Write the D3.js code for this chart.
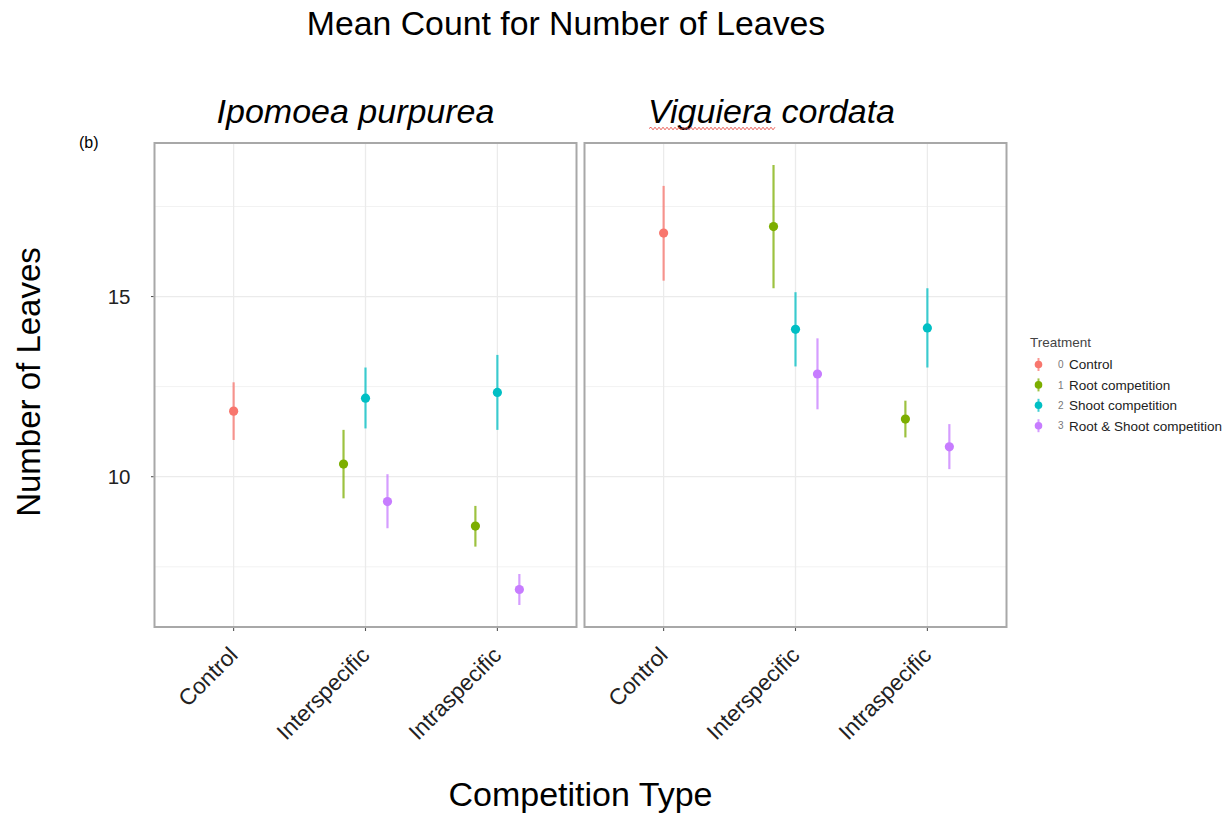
<!DOCTYPE html>
<html>
<head>
<meta charset="utf-8">
<script src="https://cdn.jsdelivr.net/npm/d3@7"></script>
<style>
  html, body { margin: 0; padding: 0; background: #fff; }
  svg { display: block; font-family: "Liberation Sans", Arial, Helvetica, sans-serif; }
</style>
</head>
<body>
<svg id="chart" width="1230" height="814"></svg>
<script>
// ---- data ----
const speciesNames = ["Ipomoea purpurea", "Viguiera cordata"];
const competitionTypes = ["Control", "Interspecific", "Intraspecific"];
const treatmentNames = ["Control", "Root competition", "Shoot competition", "Root & Shoot competition"];
const treatmentCodes = ["0", "1", "2", "3"];
const treatmentColors = ["#F8766D", "#7CAE00", "#00BFC4", "#C77CFF"];
const yTickValues = [10, 15];

const rowSpecies     = [0, 0, 0, 0, 0, 0, 0, 1, 1, 1, 1, 1, 1, 1];
const rowCompetition = ["Control", "Interspecific", "Interspecific", "Interspecific", "Intraspecific", "Intraspecific", "Intraspecific",
                        "Control", "Interspecific", "Interspecific", "Interspecific", "Intraspecific", "Intraspecific", "Intraspecific"];
const rowTreatment   = [0, 1, 2, 3, 1, 2, 3, 0, 1, 2, 3, 1, 2, 3];
const meanLeaves     = [11.82, 10.35, 12.18, 9.31, 8.63, 12.34, 6.87, 16.76, 16.94, 14.09, 12.85, 11.60, 14.13, 10.83];
const lowerLeaves    = [11.02, 9.40, 11.34, 8.57, 8.06, 11.30, 6.44, 15.44, 15.23, 13.06, 11.87, 11.09, 13.03, 10.21];
const upperLeaves    = [12.62, 11.30, 13.03, 10.07, 9.19, 13.38, 7.30, 18.07, 18.65, 15.12, 13.84, 12.11, 15.23, 11.46];

const rows = rowSpecies.map((s, i) => ({
  species: s, comp: rowCompetition[i], trt: rowTreatment[i],
  mean: meanLeaves[i], lo: lowerLeaves[i], hi: upperLeaves[i]
}));

// ---- layout ----
const svg = d3.select("#chart");
const panelTop = 143, panelBottom = 627;
const panelLefts = [154.5, 584.5];
const panelW = 422;

const ext = [d3.min(lowerLeaves), d3.max(upperLeaves)];
const pad = (ext[1] - ext[0]) * 0.05;
const y = d3.scaleLinear().domain([ext[0] - pad, ext[1] + pad]).range([panelBottom, panelTop]);
const minorTicks = [7.5, 12.5, 17.5];

const x = d3.scalePoint().domain(competitionTypes).range([0, panelW]).padding(0.6);
const step = x.step();
const dodgeWidth = 0.5;

// dodge offsets
const groups = d3.group(rows, d => d.species + "|" + d.comp);
groups.forEach(g => {
  const n = g.length;
  g.sort((a, b) => a.trt - b.trt);
  g.forEach((d, k) => {
    d.offset = (-dodgeWidth / 2 + (k + 0.5) * dodgeWidth / n) * step;
  });
});

const facetShift = [-10, -24];

speciesNames.forEach((name, si) => {
  const g = svg.append("g").attr("transform", `translate(${panelLefts[si]},0)`);
  // minor gridlines
  g.selectAll("line.minor").data(minorTicks).join("line")
    .attr("x1", 0).attr("x2", panelW)
    .attr("y1", d => y(d)).attr("y2", d => y(d))
    .attr("stroke", "#f2f2f2").attr("stroke-width", 1);
  // major gridlines
  g.selectAll("line.majorY").data(yTickValues).join("line")
    .attr("x1", 0).attr("x2", panelW)
    .attr("y1", d => y(d)).attr("y2", d => y(d))
    .attr("stroke", "#ebebeb").attr("stroke-width", 1.3);
  g.selectAll("line.majorX").data(competitionTypes).join("line")
    .attr("x1", d => x(d)).attr("x2", d => x(d))
    .attr("y1", panelTop).attr("y2", panelBottom)
    .attr("stroke", "#ebebeb").attr("stroke-width", 1.3);

  const pr = rows.filter(d => d.species === si);
  g.selectAll("line.err").data(pr).join("line")
    .attr("x1", d => x(d.comp) + d.offset).attr("x2", d => x(d.comp) + d.offset)
    .attr("y1", d => y(d.lo)).attr("y2", d => y(d.hi))
    .attr("stroke", d => treatmentColors[d.trt]).attr("stroke-opacity", 0.75)
    .attr("stroke-width", 2.2);
  g.selectAll("circle").data(pr).join("circle")
    .attr("cx", d => x(d.comp) + d.offset).attr("cy", d => y(d.mean))
    .attr("r", 4.6).attr("fill", d => treatmentColors[d.trt]);

  // panel border
  g.append("rect").attr("x", 0).attr("y", panelTop).attr("width", panelW).attr("height", panelBottom - panelTop)
    .attr("fill", "none").attr("stroke", "#a8a8a8").attr("stroke-width", 2);

  // x ticks
  g.selectAll("line.xt").data(competitionTypes).join("line")
    .attr("x1", d => x(d)).attr("x2", d => x(d))
    .attr("y1", panelBottom + 1).attr("y2", panelBottom + 4)
    .attr("stroke", "#555").attr("stroke-width", 1.1);
  g.selectAll("text.xl").data(competitionTypes).join("text")
    .attr("transform", d => `translate(${x(d) - 6},${panelBottom + 18}) rotate(-45)`)
    .attr("text-anchor", "end").attr("dy", "0.72em")
    .attr("font-size", 22.5).attr("fill", "#222")
    .text(d => d);

  // facet label
  g.append("text").attr("x", panelW / 2 + facetShift[si]).attr("y", 123)
    .attr("text-anchor", "middle").attr("font-size", 34).attr("font-style", "italic")
    .attr("fill", "#000").text(name);
});

// y axis ticks & labels (left panel only)
const ya = svg.append("g");
ya.selectAll("line").data(yTickValues).join("line")
  .attr("x1", panelLefts[0] - 3.5).attr("x2", panelLefts[0] - 1)
  .attr("y1", d => y(d)).attr("y2", d => y(d))
  .attr("stroke", "#555").attr("stroke-width", 1.1);
ya.selectAll("text").data(yTickValues).join("text")
  .attr("x", 130.5).attr("y", d => y(d)).attr("dy", "0.36em")
  .attr("text-anchor", "end").attr("font-size", 20.5).attr("fill", "#222")
  .text(d => d);

// squiggle under "Viguiera" (spell-check mark in reference)
(function () {
  const x0 = 649, x1 = 776, yy = 128.5;
  let p = `M${x0},${yy}`;
  let up = true;
  for (let xx = x0 + 2; xx <= x1; xx += 2) { p += `L${xx},${yy + (up ? -1.3 : 1.3)}`; up = !up; }
  svg.append("path").attr("d", p).attr("fill", "none").attr("stroke", "#e8504a").attr("stroke-width", 0.9);
})();

// titles
svg.append("text").attr("x", 566).attr("y", 35).attr("text-anchor", "middle")
  .attr("font-size", 33.8).attr("fill", "#000").text("Mean Count for Number of Leaves");
svg.append("text").attr("x", 580.5).attr("y", 806).attr("text-anchor", "middle")
  .attr("font-size", 34).attr("fill", "#000").text("Competition Type");
svg.append("text").attr("transform", "translate(40,382) rotate(-90)").attr("text-anchor", "middle")
  .attr("font-size", 33).attr("fill", "#000").text("Number of Leaves");
svg.append("text").attr("x", 79).attr("y", 148).attr("font-size", 16).attr("fill", "#000").text("(b)");

// legend
const lg = svg.append("g").attr("transform", "translate(1030,0)");
lg.append("text").attr("x", 0).attr("y", 347).attr("font-size", 13.5).attr("fill", "#444").text("Treatment");
const rowY = i => 364.5 + i * 20.4;
treatmentNames.forEach((t, i) => {
  lg.append("line").attr("x1", 8.5).attr("x2", 8.5).attr("y1", rowY(i) - 6.5).attr("y2", rowY(i) + 6.5)
    .attr("stroke", treatmentColors[i]).attr("stroke-opacity", 0.75).attr("stroke-width", 2);
  lg.append("circle").attr("cx", 8.5).attr("cy", rowY(i)).attr("r", 3.8).attr("fill", treatmentColors[i]);
  lg.append("text").attr("x", 28).attr("y", rowY(i)).attr("dy", "0.36em")
    .attr("font-size", 10).attr("fill", "#777").text(treatmentCodes[i]);
  lg.append("text").attr("x", 39).attr("y", rowY(i)).attr("dy", "0.36em")
    .attr("font-size", 13.5).attr("fill", "#222").text(t);
});
</script>
</body>
</html>
